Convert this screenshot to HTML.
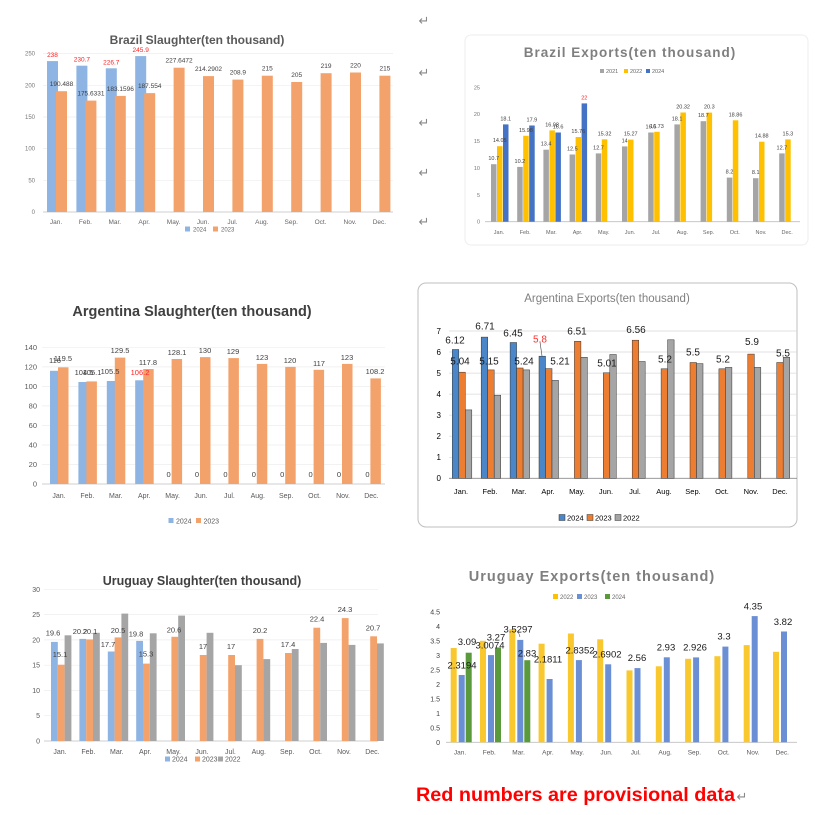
<!DOCTYPE html>
<html><head><meta charset="utf-8"><style>
html,body{margin:0;padding:0;background:#fff}
svg{display:block}
text{font-family:"Liberation Sans",sans-serif}
</style></head><body>
<svg width="826" height="815" viewBox="0 0 826 815" xmlns="http://www.w3.org/2000/svg">
<rect width="826" height="815" fill="#fff"/>
<g font-size="13" fill="#888" text-anchor="middle">
<text x="424" y="25">↵</text><text x="424" y="77">↵</text><text x="424" y="127">↵</text><text x="424" y="177">↵</text><text x="424" y="226">↵</text>
</g>

<!-- ===== Chart 1 Brazil Slaughter ===== -->
<g>
<text x="197" y="44" font-size="12" font-weight="bold" fill="#595959" text-anchor="middle">Brazil Slaughter(ten thousand)</text>
<g stroke="#eeeeee" stroke-width="0.7">
<line x1="43" x2="393" y1="53.6" y2="53.6"/><line x1="43" x2="393" y1="85.3" y2="85.3"/><line x1="43" x2="393" y1="117" y2="117"/><line x1="43" x2="393" y1="148.6" y2="148.6"/><line x1="43" x2="393" y1="180.3" y2="180.3"/>
</g>
<line x1="43" x2="393" y1="212" y2="212" stroke="#bfbfbf" stroke-width="0.8"/>
<g font-size="6" fill="#777" text-anchor="end">
<text x="35" y="214">0</text><text x="35" y="182.3">50</text><text x="35" y="150.6">100</text><text x="35" y="119">150</text><text x="35" y="87.3">200</text><text x="35" y="55.6">250</text>
</g>
<g fill="#8db4e2">
<rect x="47" y="61.1" width="11" height="150.9"/><rect x="76.4" y="65.7" width="11" height="146.3"/><rect x="105.8" y="68.3" width="11" height="143.7"/><rect x="135.2" y="56.1" width="11" height="155.9"/>
</g>
<g fill="#f4a26b">
<rect x="56" y="91.2" width="11" height="120.8"/><rect x="85.4" y="100.6" width="11" height="111.4"/><rect x="114.8" y="95.9" width="11" height="116.1"/><rect x="144.2" y="93.1" width="11" height="118.9"/><rect x="173.6" y="67.7" width="11" height="144.3"/><rect x="203" y="76.1" width="11" height="135.9"/><rect x="232.4" y="79.6" width="11" height="132.4"/><rect x="261.8" y="75.7" width="11" height="136.3"/><rect x="291.2" y="82" width="11" height="130"/><rect x="320.6" y="73.2" width="11" height="138.8"/><rect x="350" y="72.5" width="11" height="139.5"/><rect x="379.4" y="75.7" width="11" height="136.3"/>
</g>
<g font-size="6.5" fill="#ff2020" text-anchor="middle">
<text x="52.5" y="57.1">238</text><text x="81.9" y="61.7">230.7</text><text x="111.3" y="64.3">226.7</text><text x="140.7" y="52.1">245.9</text>
</g>
<g font-size="6.5" fill="#404040" text-anchor="middle">
<text x="61.5" y="86.2">190.488</text><text x="90.9" y="95.6">175.6331</text><text x="120.3" y="90.9">183.1596</text><text x="149.7" y="88.1">187.554</text><text x="179.1" y="62.7">227.6472</text><text x="208.5" y="71.1">214.2902</text><text x="237.9" y="74.6">208.9</text><text x="267.3" y="70.7">215</text><text x="296.7" y="77">205</text><text x="326.1" y="68.2">219</text><text x="355.5" y="67.5">220</text><text x="384.9" y="70.7">215</text>
</g>
<g font-size="6.5" fill="#666" text-anchor="middle">
<text x="56" y="224">Jan.</text><text x="85.4" y="224">Feb.</text><text x="114.8" y="224">Mar.</text><text x="144.2" y="224">Apr.</text><text x="173.6" y="224">May.</text><text x="203" y="224">Jun.</text><text x="232.4" y="224">Jul.</text><text x="261.8" y="224">Aug.</text><text x="291.2" y="224">Sep.</text><text x="320.6" y="224">Oct.</text><text x="350" y="224">Nov.</text><text x="379.4" y="224">Dec.</text>
</g>
<rect x="185" y="226.5" width="5" height="5" fill="#8db4e2"/><text x="193" y="231.5" font-size="6" fill="#666">2024</text>
<rect x="213" y="226.5" width="5" height="5" fill="#f4a26b"/><text x="221" y="231.5" font-size="6" fill="#666">2023</text>
</g>

<!-- ===== Chart 2 Brazil Exports ===== -->
<g>
<rect x="465" y="35" width="343" height="210" rx="6" fill="none" stroke="#eeeeee" stroke-width="1"/>
<text x="630" y="57" font-size="13.5" font-weight="bold" fill="#7f7f7f" text-anchor="middle" letter-spacing="1">Brazil Exports(ten thousand)</text>
<rect x="600" y="69" width="4" height="4" fill="#a5a5a5"/><text x="606" y="73" font-size="5.5" fill="#666">2021</text>
<rect x="624" y="69" width="4" height="4" fill="#ffc000"/><text x="630" y="73" font-size="5.5" fill="#666">2022</text>
<rect x="646" y="69" width="4" height="4" fill="#4472c4"/><text x="652" y="73" font-size="5.5" fill="#666">2024</text>
<line x1="485" x2="800" y1="221.7" y2="221.7" stroke="#bfbfbf" stroke-width="0.8"/>
<g font-size="5.5" fill="#777" text-anchor="end">
<text x="480" y="223.7">0</text><text x="480" y="196.8">5</text><text x="480" y="169.9">10</text><text x="480" y="143.1">15</text><text x="480" y="116.2">20</text><text x="480" y="89.3">25</text>
</g>
<g fill="#a5a5a5">
<rect x="491" y="164.2" width="5.5" height="57.5"/><rect x="517.2" y="166.9" width="5.5" height="54.8"/><rect x="543.4" y="149.7" width="5.5" height="72"/><rect x="569.6" y="154.5" width="5.5" height="67.2"/><rect x="595.8" y="153.4" width="5.5" height="68.3"/><rect x="622" y="146.4" width="5.5" height="75.3"/><rect x="648.2" y="132.5" width="5.5" height="89.2"/><rect x="674.4" y="124.4" width="5.5" height="97.3"/><rect x="700.6" y="121.2" width="5.5" height="100.5"/><rect x="726.8" y="177.6" width="5.5" height="44.1"/><rect x="753" y="178.2" width="5.5" height="43.5"/><rect x="779.2" y="153.4" width="5.5" height="68.3"/>
</g>
<g fill="#ffc000">
<rect x="497" y="146.2" width="5.5" height="75.5"/><rect x="523.2" y="135.8" width="5.5" height="85.9"/><rect x="549.4" y="130.4" width="5.5" height="91.3"/><rect x="575.6" y="137" width="5.5" height="84.7"/><rect x="601.8" y="139.3" width="5.5" height="82.4"/><rect x="628" y="139.6" width="5.5" height="82.1"/><rect x="654.2" y="131.8" width="5.5" height="89.9"/><rect x="680.4" y="112.5" width="5.5" height="109.2"/><rect x="706.6" y="112.6" width="5.5" height="109.1"/><rect x="732.8" y="120.3" width="5.5" height="101.4"/><rect x="759" y="141.7" width="5.5" height="80"/><rect x="785.2" y="139.4" width="5.5" height="82.3"/>
</g>
<g fill="#4472c4">
<rect x="503" y="124.4" width="5.5" height="97.3"/><rect x="529.2" y="125.5" width="5.5" height="96.2"/><rect x="555.4" y="132.5" width="5.5" height="89.2"/><rect x="581.6" y="103.4" width="5.5" height="118.3"/>
</g>
<g font-size="5.5" fill="#404040" text-anchor="middle">
<text x="493.7" y="160.2">10.7</text><text x="519.9" y="162.9">10.2</text><text x="546.1" y="145.7">13.4</text><text x="572.3" y="150.5">12.5</text><text x="598.5" y="149.4">12.7</text><text x="624.7" y="142.4">14</text><text x="650.9" y="128.5">16.6</text><text x="677.1" y="120.4">18.1</text><text x="703.3" y="117.2">18.7</text><text x="729.5" y="173.6">8.2</text><text x="755.7" y="174.2">8.1</text><text x="781.9" y="149.4">12.7</text>
<text x="499.7" y="142.2">14.05</text><text x="525.9" y="131.8">15.98</text><text x="552.1" y="126.4">16.98</text><text x="578.3" y="133">15.76</text><text x="604.5" y="135.3">15.32</text><text x="630.7" y="135.6">15.27</text><text x="656.9" y="127.8">16.73</text><text x="683.1" y="108.5">20.32</text><text x="709.3" y="108.6">20.3</text><text x="735.5" y="116.3">18.86</text><text x="761.7" y="137.7">14.88</text><text x="787.9" y="135.4">15.3</text>
<text x="505.7" y="120.4">18.1</text><text x="531.9" y="121.5">17.9</text><text x="558.1" y="128.5">16.6</text>
</g>
<text x="584.3" y="99.4" font-size="5.5" fill="#ff2020" text-anchor="middle">22</text>
<g font-size="5.5" fill="#666" text-anchor="middle">
<text x="499" y="234">Jan.</text><text x="525.2" y="234">Feb.</text><text x="551.4" y="234">Mar.</text><text x="577.6" y="234">Apr.</text><text x="603.8" y="234">May.</text><text x="630" y="234">Jun.</text><text x="656.2" y="234">Jul.</text><text x="682.4" y="234">Aug.</text><text x="708.6" y="234">Sep.</text><text x="734.8" y="234">Oct.</text><text x="761" y="234">Nov.</text><text x="787.2" y="234">Dec.</text>
</g>
</g>

<!-- ===== Chart 3 Argentina Exports ===== -->
<g>
<rect x="418" y="283" width="379" height="244" rx="8" fill="none" stroke="#bfbfbf" stroke-width="1"/>
<text x="607" y="302" font-size="11.5" fill="#7f7f7f" text-anchor="middle">Argentina Exports(ten thousand)</text>
<g stroke="#d9d9d9" stroke-width="0.7">
<line x1="449" x2="797" y1="331" y2="331"/><line x1="449" x2="797" y1="352" y2="352"/><line x1="449" x2="797" y1="373.1" y2="373.1"/><line x1="449" x2="797" y1="394.1" y2="394.1"/><line x1="449" x2="797" y1="415.2" y2="415.2"/><line x1="449" x2="797" y1="436.2" y2="436.2"/><line x1="449" x2="797" y1="457.3" y2="457.3"/>
</g>
<line x1="449" x2="797" y1="478.3" y2="478.3" stroke="#8c8c8c" stroke-width="0.8"/>
<g font-size="8" fill="#000" text-anchor="end">
<text x="441" y="481">0</text><text x="441" y="460">1</text><text x="441" y="439">2</text><text x="441" y="418">3</text><text x="441" y="397">4</text><text x="441" y="376">5</text><text x="441" y="355">6</text><text x="441" y="334">7</text>
</g>
<g stroke="#333" stroke-width="0.5">
<g fill="#4a86c8">
<rect x="452.3" y="349.5" width="6.5" height="128.8"/><rect x="481.2" y="337.1" width="6.5" height="141.2"/><rect x="510.1" y="342.5" width="6.5" height="135.8"/><rect x="539" y="356.2" width="6.5" height="122.1"/>
</g>
<g fill="#ed7d31">
<rect x="458.8" y="372.2" width="6.5" height="106.1"/><rect x="487.7" y="369.9" width="6.5" height="108.4"/><rect x="516.6" y="368" width="6.5" height="110.3"/><rect x="545.5" y="368.6" width="6.5" height="109.7"/><rect x="574.4" y="341.3" width="6.5" height="137"/><rect x="603.3" y="372.8" width="6.5" height="105.5"/><rect x="632.2" y="340.2" width="6.5" height="138.1"/><rect x="661.1" y="368.8" width="6.5" height="109.5"/><rect x="690" y="362.5" width="6.5" height="115.8"/><rect x="718.9" y="368.8" width="6.5" height="109.5"/><rect x="747.8" y="354.1" width="6.5" height="124.2"/><rect x="776.7" y="362.5" width="6.5" height="115.8"/>
</g>
<g fill="#a5a5a5">
<rect x="465.3" y="409.9" width="6.5" height="68.4"/><rect x="494.2" y="395.2" width="6.5" height="83.1"/><rect x="523.1" y="369.9" width="6.5" height="108.4"/><rect x="552" y="380.4" width="6.5" height="97.9"/><rect x="580.9" y="357.3" width="6.5" height="121"/><rect x="609.8" y="354.5" width="6.5" height="123.8"/><rect x="638.7" y="361.5" width="6.5" height="116.8"/><rect x="667.6" y="339.8" width="6.5" height="138.5"/><rect x="696.5" y="363.6" width="6.5" height="114.7"/><rect x="725.4" y="367.4" width="6.5" height="110.9"/><rect x="754.3" y="367.4" width="6.5" height="110.9"/><rect x="783.2" y="357.3" width="6.5" height="121"/>
</g>
</g>
<line x1="540" y1="342" x2="542" y2="356" stroke="#404040" stroke-width="0.6"/>
<g font-size="10" fill="#1a1a1a" text-anchor="middle">
<text x="455" y="343.3">6.12</text><text x="460" y="364.7">5.04</text><text x="485" y="329.7">6.71</text><text x="489" y="364.7">5.15</text><text x="513" y="336.3">6.45</text><text x="524" y="364.7">5.24</text><text x="560" y="364.7">5.21</text><text x="577" y="334.7">6.51</text><text x="607" y="366.3">5.01</text><text x="636" y="333">6.56</text><text x="665" y="362.3">5.2</text><text x="693" y="355.7">5.5</text><text x="723" y="362.3">5.2</text><text x="752" y="345">5.9</text><text x="783" y="356.7">5.5</text>
</g>
<text x="540" y="342.3" font-size="10" fill="#ff3030" text-anchor="middle">5.8</text>
<g font-size="7.5" fill="#000" text-anchor="middle">
<text x="461" y="494">Jan.</text><text x="490" y="494">Feb.</text><text x="519" y="494">Mar.</text><text x="548" y="494">Apr.</text><text x="577" y="494">May.</text><text x="606" y="494">Jun.</text><text x="635" y="494">Jul.</text><text x="664" y="494">Aug.</text><text x="693" y="494">Sep.</text><text x="722" y="494">Oct.</text><text x="751" y="494">Nov.</text><text x="780" y="494">Dec.</text>
</g>
<g stroke="#333" stroke-width="0.5">
<rect x="559" y="514.5" width="6" height="6" fill="#4a86c8"/><rect x="587" y="514.5" width="6" height="6" fill="#ed7d31"/><rect x="615" y="514.5" width="6" height="6" fill="#a5a5a5"/>
</g>
<g font-size="7.5" fill="#000">
<text x="567" y="520.5">2024</text><text x="595" y="520.5">2023</text><text x="623" y="520.5">2022</text>
</g>
</g>

<!-- ===== Chart 4 Uruguay Exports ===== -->
<g>
<text x="592" y="581" font-size="14.5" font-weight="bold" fill="#7f7f7f" text-anchor="middle" letter-spacing="1">Uruguay Exports(ten thousand)</text>
<rect x="553" y="594" width="5" height="5" fill="#ffc000"/><text x="560" y="599" font-size="6" fill="#666">2022</text>
<rect x="577" y="594" width="5" height="5" fill="#6a8fd4"/><text x="584" y="599" font-size="6" fill="#666">2023</text>
<rect x="605" y="594" width="5" height="5" fill="#5b9a3c"/><text x="612" y="599" font-size="6" fill="#666">2024</text>
<line x1="446" x2="797" y1="742.3" y2="742.3" stroke="#bfbfbf" stroke-width="0.8"/>
<g font-size="7" fill="#404040" text-anchor="end">
<text x="440" y="744.8">0</text><text x="440" y="730.3">0.5</text><text x="440" y="715.8">1</text><text x="440" y="701.3">1.5</text><text x="440" y="686.8">2</text><text x="440" y="672.3">2.5</text><text x="440" y="657.8">3</text><text x="440" y="643.3">3.5</text><text x="440" y="628.8">4</text><text x="440" y="614.3">4.5</text>
</g>
<g fill="#f9c82e">
<rect x="450.7" y="648" width="6" height="94.3"/><rect x="480" y="640.8" width="6" height="101.5"/><rect x="509.3" y="629.2" width="6" height="113.1"/><rect x="538.6" y="643.7" width="6" height="98.6"/><rect x="567.9" y="633.5" width="6" height="108.8"/><rect x="597.2" y="639.3" width="6" height="103"/><rect x="626.5" y="670.4" width="6" height="71.9"/><rect x="655.8" y="666.3" width="6" height="76"/><rect x="685.1" y="658.8" width="6" height="83.5"/><rect x="714.4" y="656.2" width="6" height="86.1"/><rect x="743.7" y="645.1" width="6" height="97.2"/><rect x="773" y="651.8" width="6" height="90.5"/>
</g>
<g fill="#6a8fd4">
<rect x="458.7" y="675" width="6" height="67.3"/><rect x="488" y="655.1" width="6" height="87.2"/><rect x="517.3" y="639.9" width="6" height="102.4"/><rect x="546.6" y="679" width="6" height="63.3"/><rect x="575.9" y="660.1" width="6" height="82.2"/><rect x="605.2" y="664.3" width="6" height="78"/><rect x="634.5" y="668.1" width="6" height="74.2"/><rect x="663.8" y="657.3" width="6" height="85"/><rect x="693.1" y="657.4" width="6" height="84.9"/><rect x="722.4" y="646.6" width="6" height="95.7"/><rect x="751.7" y="616.1" width="6" height="126.2"/><rect x="781" y="631.5" width="6" height="110.8"/>
</g>
<g fill="#5b9a3c">
<rect x="465.7" y="652.7" width="6" height="89.6"/><rect x="495" y="647.5" width="6" height="94.8"/><rect x="524.3" y="660.2" width="6" height="82.1"/>
</g>
<line x1="518" y1="631" x2="520" y2="637" stroke="#333" stroke-width="0.5"/>
<g font-size="9.5" fill="#1a1a1a" text-anchor="middle">
<text x="467" y="645">3.09</text><text x="462" y="668.5">2.3194</text><text x="490" y="648.5">3.0074</text><text x="496" y="640.5">3.27</text><text x="518" y="632.5">3.5297</text><text x="527" y="656.5">2.83</text><text x="548" y="662.5">2.1811</text><text x="580" y="653.5">2.8352</text><text x="607" y="657.5">2.6902</text><text x="637" y="661">2.56</text><text x="666" y="650.5">2.93</text><text x="695" y="650.5">2.926</text><text x="724" y="639.5">3.3</text><text x="753" y="609.5">4.35</text><text x="783" y="625">3.82</text>
</g>
<g font-size="6.5" fill="#595959" text-anchor="middle">
<text x="460" y="754.5">Jan.</text><text x="489.3" y="754.5">Feb.</text><text x="518.6" y="754.5">Mar.</text><text x="547.9" y="754.5">Apr.</text><text x="577.2" y="754.5">May.</text><text x="606.5" y="754.5">Jun.</text><text x="635.8" y="754.5">Jul.</text><text x="665.1" y="754.5">Aug.</text><text x="694.4" y="754.5">Sep.</text><text x="723.7" y="754.5">Oct.</text><text x="753" y="754.5">Nov.</text><text x="782.3" y="754.5">Dec.</text>
</g>
</g>

<!-- ===== Chart 5 Argentina Slaughter ===== -->
<g>
<text x="192" y="316" font-size="14.5" font-weight="bold" fill="#404040" text-anchor="middle">Argentina Slaughter(ten thousand)</text>
<g stroke="#eeeeee" stroke-width="0.7">
<line x1="42" x2="385" y1="347.3" y2="347.3"/><line x1="42" x2="385" y1="366.9" y2="366.9"/><line x1="42" x2="385" y1="386.4" y2="386.4"/><line x1="42" x2="385" y1="405.9" y2="405.9"/><line x1="42" x2="385" y1="425.4" y2="425.4"/><line x1="42" x2="385" y1="445" y2="445"/><line x1="42" x2="385" y1="464.5" y2="464.5"/>
</g>
<line x1="42" x2="385" y1="484" y2="484" stroke="#bfbfbf" stroke-width="0.8"/>
<g font-size="7.5" fill="#595959" text-anchor="end">
<text x="37" y="486.5">0</text><text x="37" y="467">20</text><text x="37" y="447.5">40</text><text x="37" y="428">60</text><text x="37" y="408.4">80</text><text x="37" y="388.9">100</text><text x="37" y="369.4">120</text><text x="37" y="349.8">140</text>
</g>
<g fill="#8db4e2">
<rect x="50" y="370.8" width="10" height="113.2"/><rect x="78.4" y="382" width="10" height="102"/><rect x="106.8" y="381" width="10" height="103"/><rect x="135.2" y="380.3" width="10" height="103.7"/>
</g>
<g fill="#f4a26b">
<rect x="58" y="367.3" width="10.5" height="116.7"/><rect x="86.4" y="381.4" width="10.5" height="102.6"/><rect x="114.8" y="357.6" width="10.5" height="126.4"/><rect x="143.2" y="369" width="10.5" height="115"/><rect x="171.6" y="359" width="10.5" height="125"/><rect x="200" y="357.1" width="10.5" height="126.9"/><rect x="228.4" y="358.1" width="10.5" height="125.9"/><rect x="256.8" y="363.9" width="10.5" height="120.1"/><rect x="285.2" y="366.9" width="10.5" height="117.1"/><rect x="313.6" y="369.8" width="10.5" height="114.2"/><rect x="342" y="363.9" width="10.5" height="120.1"/><rect x="370.4" y="378.4" width="10.5" height="105.6"/>
</g>
<g font-size="7.5" fill="#404040" text-anchor="middle">
<text x="55" y="363">116</text><text x="84" y="375">104.5</text><text x="110" y="374">105.5</text>
<text x="63" y="361">119.5</text><text x="92" y="375">105.1</text><text x="120" y="353">129.5</text><text x="148" y="365">117.8</text><text x="177" y="355">128.1</text><text x="205" y="353">130</text><text x="233" y="354">129</text><text x="262" y="360">123</text><text x="290" y="363">120</text><text x="319" y="366">117</text><text x="347" y="360">123</text><text x="375" y="374">108.2</text>
<text x="168.6" y="477">0</text><text x="197" y="477">0</text><text x="225.4" y="477">0</text><text x="253.8" y="477">0</text><text x="282.2" y="477">0</text><text x="310.6" y="477">0</text><text x="339" y="477">0</text><text x="367.4" y="477">0</text>
</g>
<text x="140" y="375" font-size="7.5" fill="#ff2020" text-anchor="middle">106.2</text>
<g font-size="7" fill="#595959" text-anchor="middle">
<text x="59" y="498">Jan.</text><text x="87.4" y="498">Feb.</text><text x="115.8" y="498">Mar.</text><text x="144.2" y="498">Apr.</text><text x="172.6" y="498">May.</text><text x="201" y="498">Jun.</text><text x="229.4" y="498">Jul.</text><text x="257.8" y="498">Aug.</text><text x="286.2" y="498">Sep.</text><text x="314.6" y="498">Oct.</text><text x="343" y="498">Nov.</text><text x="371.4" y="498">Dec.</text>
</g>
<rect x="168.5" y="518" width="5" height="5" fill="#8db4e2"/><text x="176" y="523.5" font-size="7" fill="#595959">2024</text>
<rect x="196" y="518" width="5" height="5" fill="#f4a26b"/><text x="203.5" y="523.5" font-size="7" fill="#595959">2023</text>
</g>

<!-- ===== Chart 6 Uruguay Slaughter ===== -->
<g>
<text x="202" y="585" font-size="12.5" font-weight="bold" fill="#404040" text-anchor="middle">Uruguay Slaughter(ten thousand)</text>
<g stroke="#eeeeee" stroke-width="0.7">
<line x1="44" x2="378" y1="589.3" y2="589.3"/><line x1="44" x2="378" y1="614.6" y2="614.6"/><line x1="44" x2="378" y1="639.9" y2="639.9"/><line x1="44" x2="378" y1="665.2" y2="665.2"/><line x1="44" x2="378" y1="690.4" y2="690.4"/><line x1="44" x2="378" y1="715.7" y2="715.7"/>
</g>
<line x1="44" x2="378" y1="741" y2="741" stroke="#bfbfbf" stroke-width="0.8"/>
<g font-size="7" fill="#595959" text-anchor="end">
<text x="40" y="743.5">0</text><text x="40" y="718.2">5</text><text x="40" y="692.9">10</text><text x="40" y="667.7">15</text><text x="40" y="642.4">20</text><text x="40" y="617.1">25</text><text x="40" y="591.8">30</text>
</g>
<g fill="#8db4e2">
<rect x="51" y="641.9" width="6.8" height="99.1"/><rect x="79.4" y="638.9" width="6.8" height="102.1"/><rect x="107.8" y="651.5" width="6.8" height="89.5"/><rect x="136.2" y="640.9" width="6.8" height="100.1"/>
</g>
<g fill="#f4a26b">
<rect x="57.8" y="664.7" width="6.8" height="76.3"/><rect x="86.2" y="639.4" width="6.8" height="101.6"/><rect x="114.6" y="637.4" width="6.8" height="103.6"/><rect x="143" y="663.6" width="6.8" height="77.4"/><rect x="171.4" y="636.8" width="6.8" height="104.2"/><rect x="199.8" y="655" width="6.8" height="86"/><rect x="228.2" y="655" width="6.8" height="86"/><rect x="256.6" y="638.9" width="6.8" height="102.1"/><rect x="285" y="653" width="6.8" height="88"/><rect x="313.4" y="627.7" width="6.8" height="113.3"/><rect x="341.8" y="618.1" width="6.8" height="122.9"/><rect x="370.2" y="636.3" width="6.8" height="104.7"/>
</g>
<g fill="#a5a5a5">
<rect x="64.6" y="635.3" width="6.8" height="105.7"/><rect x="93" y="632.8" width="6.8" height="108.2"/><rect x="121.4" y="613.6" width="6.8" height="127.4"/><rect x="149.8" y="633.3" width="6.8" height="107.7"/><rect x="178.2" y="615.6" width="6.8" height="125.4"/><rect x="206.6" y="632.8" width="6.8" height="108.2"/><rect x="235" y="665.2" width="6.8" height="75.8"/><rect x="263.4" y="659.1" width="6.8" height="81.9"/><rect x="291.8" y="649" width="6.8" height="92"/><rect x="320.2" y="642.9" width="6.8" height="98.1"/><rect x="348.6" y="644.9" width="6.8" height="96.1"/><rect x="377" y="643.4" width="6.8" height="97.6"/>
</g>
<g font-size="7.5" fill="#404040" text-anchor="middle">
<text x="53" y="635.5">19.6</text><text x="80" y="634">20.2</text><text x="108" y="647">17.7</text><text x="136" y="636.5">19.8</text>
<text x="60" y="657">15.1</text><text x="90" y="634">20.1</text><text x="118" y="633">20.5</text><text x="146" y="656.5">15.3</text><text x="174" y="632.5">20.6</text><text x="203" y="649">17</text><text x="231" y="649">17</text><text x="260" y="633">20.2</text><text x="288" y="647">17.4</text><text x="317" y="621.5">22.4</text><text x="345" y="612">24.3</text><text x="373" y="630.5">20.7</text>
</g>
<g font-size="7" fill="#595959" text-anchor="middle">
<text x="60" y="754">Jan.</text><text x="88.4" y="754">Feb.</text><text x="116.8" y="754">Mar.</text><text x="145.2" y="754">Apr.</text><text x="173.6" y="754">May.</text><text x="202" y="754">Jun.</text><text x="230.4" y="754">Jul.</text><text x="258.8" y="754">Aug.</text><text x="287.2" y="754">Sep.</text><text x="315.6" y="754">Oct.</text><text x="344" y="754">Nov.</text><text x="372.4" y="754">Dec.</text>
</g>
<rect x="165" y="756.5" width="5" height="5" fill="#8db4e2"/><text x="172" y="761.5" font-size="7" fill="#595959">2024</text>
<rect x="195" y="756.5" width="5" height="5" fill="#f4a26b"/><text x="202" y="761.5" font-size="7" fill="#595959">2023</text>
<rect x="218" y="756.5" width="5" height="5" fill="#a5a5a5"/><text x="225" y="761.5" font-size="7" fill="#595959">2022</text>
</g>

<!-- footer -->
<text x="416" y="801" font-size="19" font-weight="bold" fill="#ff0000" textLength="319" lengthAdjust="spacingAndGlyphs">Red numbers are provisional data</text>
<text x="742" y="801" font-size="13" fill="#888" text-anchor="middle">↵</text>
</svg>
</body></html>
